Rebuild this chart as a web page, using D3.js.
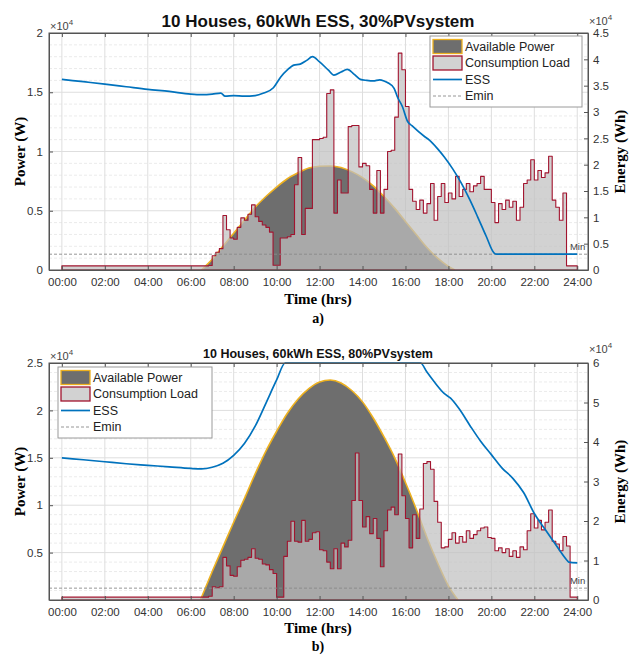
<!DOCTYPE html>
<html>
<head>
<meta charset="utf-8">
<script src="https://cdn.jsdelivr.net/npm/d3@7"></script>
<style>
  body { margin: 0; background: #fff; }
</style>
</head>
<body>
<div id="chart"></div>
<script>
// x axis (hours of the day)
const hourTicks = [0, 2, 4, 6, 8, 10, 12, 14, 16, 18, 20, 22, 24];
const xTickLabels = ["00:00", "02:00", "04:00", "06:00", "08:00", "10:00", "12:00",
  "14:00", "16:00", "18:00", "20:00", "22:00", "24:00"];
const loadStep = 1 / 6; // load is sampled every 10 minutes

// consumption load (W), 10-min samples 00:00 .. 24:00
const loadA = [
  350, 350, 350, 350, 350, 350, 350, 350, 350, 350, 350, 350,
  350, 350, 350, 350, 350, 350, 350, 350, 350, 350, 350, 350,
  350, 350, 350, 350, 350, 350, 350, 350, 350, 350, 350, 350,
  350, 350, 350, 350, 350, 380, 1200, 1500, 1800, 4600, 3400, 2700,
  2600, 3600, 4400, 4200, 4700, 5500, 4500, 4100, 3800, 3600, 3200, 400,
  400, 2700, 2700, 2800, 3000, 7200, 9500, 3000, 5200, 5200, 11000, 11000,
  11100, 11200, 14900, 15200, 4800, 7600, 6500, 6500, 12100, 12200, 12200, 8700,
  9000, 8800, 6800, 4800, 8400, 4800, 6800, 10000, 10100, 12900, 18300, 16900,
  13800, 6800, 5800, 5100, 5900, 4800, 5600, 7300, 4200, 6200, 7300, 5700,
  6500, 6000, 7900, 6200, 6800, 7300, 6600, 7100, 7300, 7900, 6800, 6800,
  5700, 4000, 5600, 5100, 5900, 5300, 5800, 4200, 5300, 7300, 7600, 9300,
  7600, 8400, 7800, 8200, 9600, 5900, 5300, 4200, 6500, 350, 350, 350,
  350
];
const loadB = [
  300, 300, 300, 300, 300, 300, 300, 300, 300, 300, 300, 300,
  300, 300, 300, 300, 300, 300, 300, 300, 300, 300, 300, 300,
  300, 300, 300, 300, 300, 300, 300, 300, 300, 300, 300, 300,
  300, 300, 300, 300, 300, 400, 1400, 1300, 1400, 4500, 3600, 2600,
  2500, 3500, 4200, 4300, 4500, 5400, 4400, 4300, 3800, 3700, 3200, 2800,
  300, 300, 4600, 6200, 8300, 6200, 6100, 8400, 6200, 6400, 7100, 7200,
  5300, 5200, 4000, 3300, 5400, 3300, 6000, 5600, 6300, 10500, 15500, 10500,
  7700, 8800, 7000, 8600, 6500, 3500, 7300, 9500, 9800, 9000, 15400, 11000,
  8600, 5500, 9000, 6500, 9600, 14400, 14600, 13800, 10400, 8200, 5500, 5600,
  6400, 7100, 6000, 6700, 6100, 7300, 6500, 6900, 7300, 7600, 7700, 6600,
  6500, 5200, 5500, 5000, 5400, 4600, 5200, 4500, 5600, 5300, 7300, 9100,
  7600, 8400, 7400, 8200, 9500, 6200, 5900, 5200, 6700, 5700, 300, 300,
  300
];

// available PV power (W)
const pvHoursA = [6.5, 7, 7.5, 8, 8.5, 9, 9.5, 10, 10.5, 11, 11.5, 12, 12.5,
  13, 13.5, 14, 14.5, 15, 15.5, 16, 16.5, 17, 17.5, 18, 18.3];
const pvA = [0, 900, 2000, 3100, 4200, 5300, 6200, 7000, 7700, 8200, 8600, 8750, 8780,
  8650, 8300, 7800, 7100, 6200, 5200, 4100, 3000, 1900, 1000, 300, 0];
const pvHoursB = [6.45, 7, 7.5, 8, 8.5, 9, 9.5, 10, 10.5, 11, 11.5, 12, 12.5,
  13, 13.5, 14, 14.5, 15, 15.5, 16, 16.5, 17, 17.5, 18, 18.45];
const pvB = [0, 3000, 5600, 8200, 10700, 13300, 15700, 17800, 19700, 21200, 22300, 23000, 23200,
  22900, 22100, 20900, 19200, 17200, 15000, 12400, 9600, 6600, 3900, 1500, 0];

// ESS stored energy (Wh)
const essHoursA = [0, 1, 2, 3, 4, 5, 6, 6.5, 7, 7.4, 7.6, 8, 8.5, 9, 9.4, 9.85, 10.2, 10.5,
  10.8, 11.1, 11.4, 11.67, 12, 12.4, 12.67, 13, 13.3, 13.6, 13.9, 14.2, 14.5, 14.8, 15,
  15.2, 15.47, 15.62, 15.86, 16.1, 16.3, 16.9, 17.1, 17.5, 17.8, 18.2, 18.6, 19, 19.36,
  19.75, 20.13, 20.25, 22, 24];
const essA = [36200, 35750, 35300, 34800, 34300, 33900, 33400, 33300, 33400, 33600, 33000,
  33100, 33000, 33100, 33600, 34600, 36700, 38000, 38900, 39100, 39800, 40500, 39500,
  38000, 37000, 37600, 38100, 37200, 36200, 36000, 35900, 36100, 35900, 35500, 34500,
  32900, 31000, 28200, 27400, 25300, 24700, 23000, 21500, 19200, 16500, 13300, 10100,
  6500, 3200, 3000, 3000, 3000];
const essHoursB = [0, 1, 2, 3, 4, 5, 6, 6.5, 7, 7.5, 8, 8.5, 9, 9.5, 10, 10.4, 12, 14, 16,
  16.7, 17, 17.33, 17.8, 18.1, 18.5, 19, 19.5, 20, 20.5, 21, 21.5, 22, 22.5, 23, 23.5,
  23.6, 24];
const essB = [36000, 35500, 35000, 34500, 34100, 33700, 33300, 33200, 33600, 34600, 36600,
  39600, 44000, 49800, 55700, 60000, 60000, 60000, 60000, 60000, 57700, 55300, 52300,
  51100, 48400, 44200, 40200, 36800, 33400, 30800, 27200, 21900, 17900, 14000, 10200,
  9600, 9400];
const eMin = 3000;

const titles = ["10 Houses, 60kWh ESS, 30%PVsystem", "10 Houses, 60kWh ESS, 80%PVsystem"];
const tags = ["a)", "b)"];
const powerTicksA = [0, 5000, 10000, 15000, 20000];
const powerTicksB = [5000, 10000, 15000, 20000, 25000];
const energyTicksA = [0, 5000, 10000, 15000, 20000, 25000, 30000, 35000, 40000, 45000];
const energyTicksB = [0, 10000, 20000, 30000, 40000, 50000, 60000];
const legendNames = ["Available Power", "Consumption Load", "ESS", "Emin"];

const width = 630, height = 655;
const left = 49, right = 588;
const sans = '"Liberation Sans", Arial, sans-serif';
const serif = '"Liberation Serif", "Times New Roman", serif';
const colPv = "#6e6e6e", colPvEdge = "#EDB120";
const colLoad = "rgba(193,193,193,0.72)", colLoadEdge = "#A2142F";
const colEss = "#0072BD";

const svg = d3.select("#chart")
  .append("svg")
  .attr("width", width)
  .attr("height", height)
  .style("font-family", sans);

const panels = [
  { id: "a", top: 33, bottom: 270, title: titles[0], titleSize: 17, titleY: 27,
    load: loadA, pvHours: pvHoursA, pv: pvA, essHours: essHoursA, ess: essA,
    powerMax: 20000, powerTicks: powerTicksA, energyMax: 45000, energyTicks: energyTicksA,
    legend: { x: 430, y: 36, w: 152, h: 71, px: 433, tx: 465 },
    expY: 30, expRY: 25, xlabY: 304, tag: tags[0], tagY: 323 },
  { id: "b", top: 363, bottom: 600, title: titles[1], titleSize: 12.5, titleY: 358,
    load: loadB, pvHours: pvHoursB, pv: pvB, essHours: essHoursB, ess: essB,
    powerMax: 25000, powerTicks: powerTicksB, energyMax: 60000, energyTicks: energyTicksB,
    legend: { x: 58, y: 367, w: 154, h: 71, px: 61, tx: 93 },
    expY: 360, expRY: 353, xlabY: 633, tag: tags[1], tagY: 651 }
];

panels.forEach(drawPanel);

function drawPanel(p) {
  const g = svg.append("g");
  const x = d3.scaleLinear().domain([-0.6, 24.5]).range([left, right]);
  const y = d3.scaleLinear().domain([0, p.powerMax]).range([p.bottom, p.top]);
  const yE = d3.scaleLinear().domain([0, p.energyMax]).range([p.bottom, p.top]);

  svg.append("clipPath").attr("id", "clip-" + p.id)
    .append("rect")
    .attr("x", left).attr("y", p.top - 1)
    .attr("width", right - left).attr("height", p.bottom - p.top + 1);

  // grid: minor (dashed) then major
  const minor = d3.range(1000, p.powerMax, 1000).filter(v => v % 5000 !== 0);
  g.append("g").selectAll("line").data(minor).join("line")
    .attr("x1", left).attr("x2", right)
    .attr("y1", d => y(d)).attr("y2", d => y(d))
    .attr("stroke", "#ebebeb").attr("stroke-dasharray", "3,2");
  g.append("g").selectAll("line").data(d3.range(5000, p.powerMax, 5000)).join("line")
    .attr("x1", left).attr("x2", right)
    .attr("y1", d => y(d)).attr("y2", d => y(d))
    .attr("stroke", "#dedede");
  g.append("g").selectAll("line").data(hourTicks).join("line")
    .attr("x1", d => x(d)).attr("x2", d => x(d))
    .attr("y1", p.top).attr("y2", p.bottom)
    .attr("stroke", "#dedede");

  const plot = g.append("g").attr("clip-path", `url(#clip-${p.id})`);

  // available power
  const pvPts = p.pvHours.map((h, i) => [h, p.pv[i]]);
  plot.append("path").datum(pvPts)
    .attr("d", d3.area().curve(d3.curveMonotoneX)
      .x(d => x(d[0])).y0(y(0)).y1(d => y(d[1])))
    .attr("fill", colPv);
  plot.append("path").datum(pvPts)
    .attr("d", d3.line().curve(d3.curveMonotoneX)
      .x(d => x(d[0])).y(d => y(d[1])))
    .attr("fill", "none").attr("stroke", colPvEdge).attr("stroke-width", 1.6);

  // consumption load
  const loadPts = p.load.map((v, i) => [i * loadStep, v]);
  plot.append("path").datum(loadPts)
    .attr("d", d3.area().curve(d3.curveStepAfter)
      .x(d => x(d[0])).y0(y(0)).y1(d => y(d[1])))
    .attr("fill", colLoad)
    .attr("stroke", colLoadEdge).attr("stroke-width", 1.1)
    .attr("stroke-linejoin", "round");

  // Emin
  plot.append("line")
    .attr("x1", left).attr("x2", right)
    .attr("y1", yE(eMin)).attr("y2", yE(eMin))
    .attr("stroke", "#8a8a8a").attr("stroke-width", 0.9).attr("stroke-dasharray", "3,2");

  // ESS
  const essPts = p.essHours.map((h, i) => [h, p.ess[i]]);
  plot.append("path").datum(essPts)
    .attr("d", d3.line().curve(d3.curveMonotoneX)
      .x(d => x(d[0])).y(d => yE(d[1])))
    .attr("fill", "none").attr("stroke", colEss).attr("stroke-width", 1.7);

  g.append("text")
    .attr("x", x(24) + 8).attr("y", yE(eMin) - 4)
    .attr("text-anchor", "end")
    .attr("font-size", 9.5).attr("fill", "#444")
    .text("Min");

  // axes
  const styleAxis = sel => {
    sel.selectAll("path, line").attr("stroke", "#555");
    sel.selectAll("text").attr("fill", "#333").attr("font-size", 11.5)
      .attr("font-family", sans);
  };
  g.append("g").attr("transform", `translate(0,${p.bottom})`)
    .call(d3.axisBottom(x).tickValues(hourTicks).tickFormat((d, i) => xTickLabels[i])
      .tickSizeInner(-4).tickSizeOuter(0).tickPadding(8))
    .call(styleAxis);
  g.append("g").attr("transform", `translate(0,${p.top})`)
    .call(d3.axisTop(x).tickValues(hourTicks).tickFormat("")
      .tickSizeInner(-4).tickSizeOuter(0))
    .call(styleAxis);
  g.append("g").attr("transform", `translate(${left},0)`)
    .call(d3.axisLeft(y).tickValues(p.powerTicks).tickFormat(d => d / 1e4)
      .tickSizeInner(-4).tickSizeOuter(0).tickPadding(6))
    .call(styleAxis);
  g.append("g").attr("transform", `translate(${right},0)`)
    .call(d3.axisRight(yE).tickValues(p.energyTicks).tickFormat(d => d / 1e4)
      .tickSizeInner(-4).tickSizeOuter(0).tickPadding(5))
    .call(styleAxis);

  // exponents
  const expo = (xPos, yPos) => {
    const t = g.append("text").attr("x", xPos).attr("y", yPos)
      .attr("font-size", 11).attr("fill", "#444");
    t.append("tspan").text("×10");
    t.append("tspan").attr("dy", -5).attr("font-size", 8).text("4");
  };
  expo(left + 1, p.expY);
  expo(right + 1, p.expRY);

  // titles and labels
  g.append("text")
    .attr("x", 318).attr("y", p.titleY)
    .attr("text-anchor", "middle")
    .attr("font-weight", "bold").attr("font-size", p.titleSize).attr("fill", "#111")
    .text(p.title);

  const mid = (p.top + p.bottom) / 2;
  g.append("text")
    .attr("transform", `translate(25,${mid}) rotate(-90)`)
    .attr("text-anchor", "middle")
    .attr("font-family", serif).attr("font-weight", "bold").attr("font-size", 15)
    .text("Power (W)");
  g.append("text")
    .attr("transform", `translate(625,${mid}) rotate(-90)`)
    .attr("text-anchor", "middle")
    .attr("font-family", serif).attr("font-weight", "bold").attr("font-size", 15)
    .text("Energy (Wh)");
  g.append("text")
    .attr("x", 318).attr("y", p.xlabY)
    .attr("text-anchor", "middle")
    .attr("font-family", serif).attr("font-weight", "bold").attr("font-size", 15)
    .text("Time (hrs)");
  g.append("text")
    .attr("x", 318).attr("y", p.tagY)
    .attr("text-anchor", "middle")
    .attr("font-family", serif).attr("font-weight", "bold").attr("font-size", 14)
    .text(p.tag);

  // legend
  const L = p.legend;
  const lg = g.append("g");
  lg.append("rect")
    .attr("x", L.x).attr("y", L.y).attr("width", L.w).attr("height", L.h)
    .attr("fill", "#fff").attr("stroke", "#9a9a9a");
  const rowH = (L.h - 5) / 4;
  legendNames.forEach((name, i) => {
    const cy = L.y + 10.5 + i * rowH;
    if (i === 0 || i === 1) {
      lg.append("rect")
        .attr("x", L.px).attr("y", cy - 7).attr("width", 29).attr("height", 14)
        .attr("fill", i === 0 ? colPv : colLoad)
        .attr("stroke", i === 0 ? colPvEdge : colLoadEdge)
        .attr("stroke-width", 1.3);
    } else {
      lg.append("line")
        .attr("x1", L.px).attr("x2", L.px + 29).attr("y1", cy).attr("y2", cy)
        .attr("stroke", i === 2 ? colEss : "#8a8a8a")
        .attr("stroke-width", i === 2 ? 1.7 : 0.9)
        .attr("stroke-dasharray", i === 2 ? null : "3,2");
    }
    lg.append("text")
      .attr("x", L.tx).attr("y", cy)
      .attr("dominant-baseline", "central")
      .attr("font-size", 12.5).attr("fill", "#222")
      .text(name);
  });

  // box outline
  g.append("rect")
    .attr("x", left).attr("y", p.top)
    .attr("width", right - left).attr("height", p.bottom - p.top)
    .attr("fill", "none").attr("stroke", "#555");
}
</script>
</body>
</html>
